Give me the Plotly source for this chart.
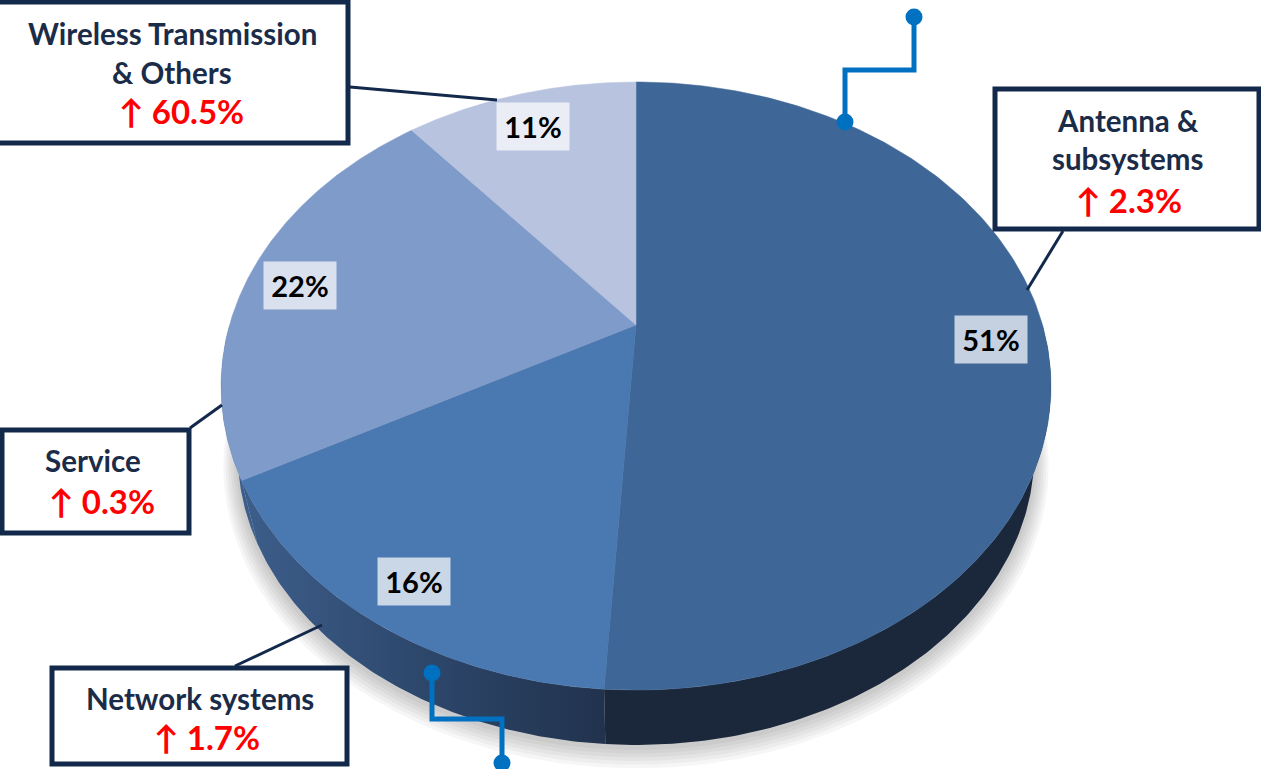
import numpy as np
import plotly.graph_objects as go

# ---------------- data ----------------
categories = ["Antenna & subsystems", "Network systems", "Service", "Wireless Transmission & Others"]
shares = [51, 16, 22, 11]                 # % share, clockwise from 12 o'clock
growth = [2.3, 1.7, 0.3, 60.5]            # growth %
callout_titles = [["Antenna &", "subsystems"], ["Network systems"], ["Service"],
                  ["Wireless Transmission", "& Others"]]

# ---------------- styles ----------------
top_colors = ["#3E6697", "#4A78B0", "#7F9BC9", "#B7C3DF"]
NAVY = "#13294B"
TEXT_NAVY = "#1B2C48"
RED = "#FF0000"
BLUE = "#0070C0"
FONT = "Lato"

# pie geometry (pixel space, perspective projection of a disc)
CX, CY, A, B, K = 636.0, 325.0, 406.5, 291.8, 0.2007
ECY, S, DEPTH = 386.0, 0.96, 67.0


def proj(theta_deg, rho=1.0):
    t = np.radians(theta_deg)
    u, v = rho * np.sin(t), rho * np.cos(t)
    den = 1 + K * v
    return CX + A * u / den, CY - B * v / den


def proj_bottom(theta_deg):
    x, y = proj(theta_deg)
    return CX + S * (x - CX), ECY + S * (y - ECY) + DEPTH


fig = go.Figure()

# angles from data
bounds = np.concatenate([[0], np.cumsum(shares)]) / sum(shares) * 360.0

# soft shadow
full = np.linspace(0, 360, 361)
for i in range(6):
    bx, by = proj_bottom(full)
    sc = 1 + 0.006 * (i + 1)
    bx = CX + (bx - CX) * sc
    by = 386 + (by - 386) * sc + 3 + i * 1.5
    fig.add_trace(go.Scatter(x=bx, y=by, mode="lines", fill="toself", line=dict(width=0),
                             fillcolor="rgba(0,0,0,0.035)", hoverinfo="skip", showlegend=False))

# sides (front half only)
side_fills = [
    dict(fillcolor="#1B283B"),
    dict(fillgradient=dict(type="horizontal",
                           colorscale=[[0, "#3D5E8B"], [0.5, "#2D476B"], [1, "#21324D"]])),
    dict(fillcolor="#3D5E8B"),
    None,
]
for i in range(len(shares)):
    a, b = max(bounds[i], 90.0), min(bounds[i + 1], 270.0)
    if a >= b or side_fills[i] is None:
        continue
    th = np.linspace(a, b, 120)
    tx, ty = proj(th)
    bx, by = proj_bottom(th[::-1])
    fig.add_trace(go.Scatter(x=np.concatenate([tx, bx]), y=np.concatenate([ty, by]),
                             mode="lines", fill="toself", line=dict(width=0),
                             hoverinfo="skip", showlegend=False, **side_fills[i]))

# top faces
for i in range(len(shares)):
    th = np.linspace(bounds[i], bounds[i + 1], 200)
    ax, ay = proj(th)
    fig.add_trace(go.Scatter(x=np.concatenate([[CX], ax, [CX]]), y=np.concatenate([[CY], ay, [CY]]),
                             mode="lines", fill="toself", line=dict(width=0.5, color=top_colors[i]),
                             fillcolor=top_colors[i], name=categories[i],
                             hoverinfo="name", showlegend=False))

annotations = []
# percentage labels
for i in range(len(shares)):
    mid = (bounds[i] + bounds[i + 1]) / 2
    lx, ly = proj(mid, 0.868)
    annotations.append(dict(x=lx, y=ly + 6, xref="x", yref="y", text=f"<b>{shares[i]}%</b>",
                            showarrow=False, font=dict(family=FONT, size=29, color="black"),
                            bgcolor="rgba(255,255,255,0.7)", width=70, height=45, borderpad=1,
                            xanchor="center", yanchor="middle"))

# callout boxes (x0, y0, x1, y1) and text line centres
box_rects = [(995, 89, 1259, 229), (52, 668, 347, 764), (2, 430, 189, 533), (-5, 2, 348, 143)]
title_pos = [[(1128, 120), (1128, 158)], [(200, 698)], [(93, 460)], [(172, 33), (172, 72)]]
growth_pos = [(1129, 200), (207, 737), (102, 501), (181, 111)]
leaders = [((1063, 231), (1027, 290)), ((235, 666), (322, 625)),
           ((190, 428), (222, 405)), ((350, 87), (497, 100))]

shapes = []
for i in range(len(shares)):
    (p0, p1) = leaders[i]
    shapes.append(dict(type="line", xref="x", yref="y", x0=p0[0], y0=p0[1], x1=p1[0], y1=p1[1],
                       line=dict(color=NAVY, width=3)))
for i in range(len(shares)):
    x0, y0, x1, y1 = box_rects[i]
    shapes.append(dict(type="rect", xref="x", yref="y", x0=x0, y0=y0, x1=x1, y1=y1,
                       line=dict(color=NAVY, width=5), fillcolor="white"))
    for line_text, (tx, ty) in zip(callout_titles[i], title_pos[i]):
        annotations.append(dict(x=tx, y=ty, xref="x", yref="y", text=f"<b>{line_text}</b>",
                                showarrow=False, font=dict(family=FONT, size=29.5, color=TEXT_NAVY),
                                xanchor="center", yanchor="middle"))
    gx, gy = growth_pos[i]
    annotations.append(dict(x=gx, y=gy, xref="x", yref="y", text=f"<b>↑ {growth[i]}%</b>",
                            showarrow=False, font=dict(family=FONT, size=33, color=RED),
                            xanchor="center", yanchor="middle"))

# blue elbow connectors
connectors = [[(845, 122), (845, 70), (914, 70), (914, 17)],
              [(432, 673), (432, 719), (502, 719), (502, 763)]]
for path in connectors:
    xs = [p[0] for p in path]
    ys = [p[1] for p in path]
    fig.add_trace(go.Scatter(x=xs, y=ys, mode="lines", line=dict(color=BLUE, width=5),
                             hoverinfo="skip", showlegend=False))
    fig.add_trace(go.Scatter(x=[xs[0], xs[-1]], y=[ys[0], ys[-1]], mode="markers",
                             marker=dict(color=BLUE, size=17), hoverinfo="skip",
                             showlegend=False, cliponaxis=False))

fig.update_layout(
    width=1261, height=769, margin=dict(l=0, r=0, t=0, b=0),
    paper_bgcolor="white", plot_bgcolor="white",
    xaxis=dict(range=[0, 1261], visible=False, fixedrange=True),
    yaxis=dict(range=[769, 0], visible=False, fixedrange=True),
    shapes=shapes, annotations=annotations, showlegend=False,
)

fig.write_html("out.html")
